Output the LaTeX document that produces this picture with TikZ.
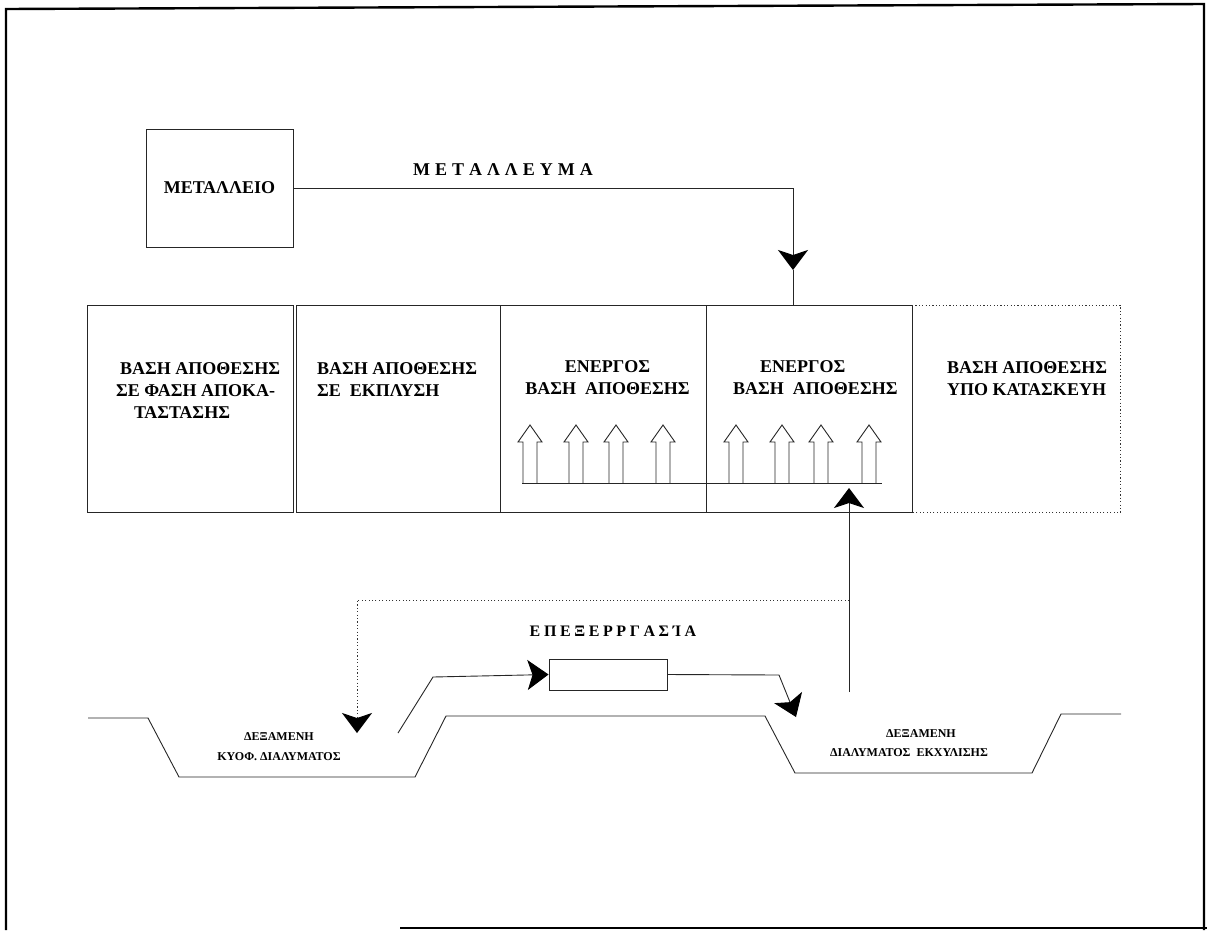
\documentclass[tikz,border=0pt]{standalone}
\usepackage{fontspec}
\setmainfont{Liberation Serif}
\usetikzlibrary{arrows.meta,calc}

% spacing used in the letter-spaced captions
\newcommand{\lsA}{\kern5pt}
\newcommand{\lsB}{\kern3.6pt}

\tikzset{
  ln/.style={line width=0.9pt, draw=black!85},
  frameline/.style={line width=2.4pt, draw=black},
  dots/.style={line width=0.9pt, draw=black!80, dash pattern=on 1.1pt off 2.3pt},
  bighead/.style={-{Stealth[length=20pt,width=30pt,inset=5pt,color=black,fill=black]}},
  sidehead/.style={-{Stealth[length=21pt,width=30pt,inset=5pt,color=black,fill=black]}},
  bigtext/.style={font=\fontsize{18}{22}\selectfont\bfseries, inner sep=0pt},
  smalltext/.style={font=\fontsize{12}{19.5}\selectfont\bfseries, inner sep=0pt, align=center},
  heapbox/.style={ln, draw, rectangle, anchor=north west, inner sep=0pt, minimum height=207pt},
  openbox/.style={rectangle, anchor=north west, inner sep=0pt, minimum height=207pt},
  hollowup/.pic={
    \draw[ln] (-7,0) -- (-7,-41) -- (-12,-41) -- (0,-58) -- (12,-41) -- (7,-41) -- (7,0);
  }
}

\begin{document}
\begin{tikzpicture}[x=1pt,y=-1pt]
\useasboundingbox (0,0) rectangle (1207,930);

% outer frame
\draw[frameline] (6,930) -- (6,9) -- (1204,4) -- (1204,930);
\draw[frameline] (400,928) -- (1207,928);

% mine
\node[ln, draw, rectangle, minimum width=147pt, minimum height=118pt, inner sep=0pt,
      font=\fontsize{18}{22}\selectfont\bfseries] (mine) at (219.5,188) {ΜΕΤΑΛΛΕΙΟ};

% row of heaps
\node[heapbox, minimum width=206pt] (b1) at (87,305) {};
\node[heapbox, minimum width=204pt] (b2) at (296,305) {};
\node[heapbox, minimum width=206pt] (b3) at (500,305) {};
\node[heapbox, minimum width=206pt] (b4) at (706,305) {};
\node[openbox, minimum width=208pt] (b5) at (912,305) {};
\draw[dots] (b5.north west) -- (b5.north east) -- (b5.south east) -- (b5.south west);

\node[bigtext, align=left, anchor=west] (t1) at (116,391)
  {\hspace*{4pt}ΒΑΣΗ ΑΠΟΘΕΣΗΣ\\ΣΕ ΦΑΣΗ ΑΠΟΚΑ-\\\hspace*{18pt}ΤΑΣΤΑΣΗΣ};
\node[bigtext, align=left, anchor=west] (t2) at (317,380)
  {ΒΑΣΗ ΑΠΟΘΕΣΗΣ\\ΣΕ\ \ ΕΚΠΛΥΣΗ};
\node[bigtext, align=center] (t3) at (607.5,378)
  {ΕΝΕΡΓΟΣ\\ΒΑΣΗ\ \ ΑΠΟΘΕΣΗΣ};
\node[bigtext, align=left, anchor=west] (t4) at (733,378)
  {\hspace*{27pt}ΕΝΕΡΓΟΣ\\ΒΑΣΗ\ \ ΑΠΟΘΕΣΗΣ};
\node[bigtext, align=left, anchor=west] (t5) at (947,379)
  {ΒΑΣΗ ΑΠΟΘΕΣΗΣ\\ΥΠΟ ΚΑΤΑΣΚΕΥΗ};

% ore feed
\node[bigtext] (ore) at (503,170)
  {Μ\lsA Ε\lsA Τ\lsA Α\lsA Λ\lsA Λ\lsA Ε\lsA Υ\lsA Μ\lsA Α};
\coordinate (oretip) at (793,270);
\draw[ln, bighead] (mine.east) -| (oretip);
\draw[ln] (oretip) -- (b4.north -| oretip);

% spraying pipes on the active heaps
\coordinate (pipeL) at (522,483);
\coordinate (pipeR) at (882,483);
\draw[ln] (pipeL) -- (pipeR);
\foreach \px in {530,576,616,663,736,782,821,869}
  \pic at (\px,483) {hollowup};

% pregnant solution pond and leach solution pond
\draw[ln] (88,718) -- (148,718) -- (179,777) -- (415,777) -- (446,716)
  -- (765,716) -- (795,773) -- (1032,773) -- (1061,714) -- (1121,714);
\node[smalltext] (pondA) at (279,746.5) {ΔΕΞΑΜΕΝΗ\\ΚΥΟΦ. ΔΙΑΛΥΜΑΤΟΣ};
\node[smalltext] (pondB) at (909,743) {\hspace*{24pt}ΔΕΞΑΜΕΝΗ\\ΔΙΑΛΥΜΑΤΟΣ\ \ ΕΚΧΥΛΙΣΗΣ};

% processing plant
\node[ln, draw, rectangle, minimum width=118pt, minimum height=31pt, inner sep=0pt] (proc) at (608,674.5) {};
\node[font=\fontsize{16}{20}\selectfont\bfseries, inner sep=0pt] (proclbl) at (613,631)
  {Ε\lsB Π\lsB Ε\lsB Ξ\lsB Ε\lsB Ρ\lsB Ρ\lsB Γ\lsB Α\lsB Σ\lsB Ί\lsB Α};

\coordinate (pregout) at (398,733);
\draw[ln, sidehead] (pregout) -- (433,677) -- (proc.west);
\coordinate (leachin) at (796,717);
\draw[ln, sidehead] (proc.east) -- (779,675) -- (leachin);

% pumping back to the heaps
\coordinate (pump) at (849,692);
\coordinate (spray) at (849,488);
\draw[ln, bighead] (pump) -- (spray);
\coordinate (split) at (849,600);
\coordinate (pondin) at (357,733);
\draw[dots, bighead] (split) -| (pondin);
\end{tikzpicture}
\end{document}
